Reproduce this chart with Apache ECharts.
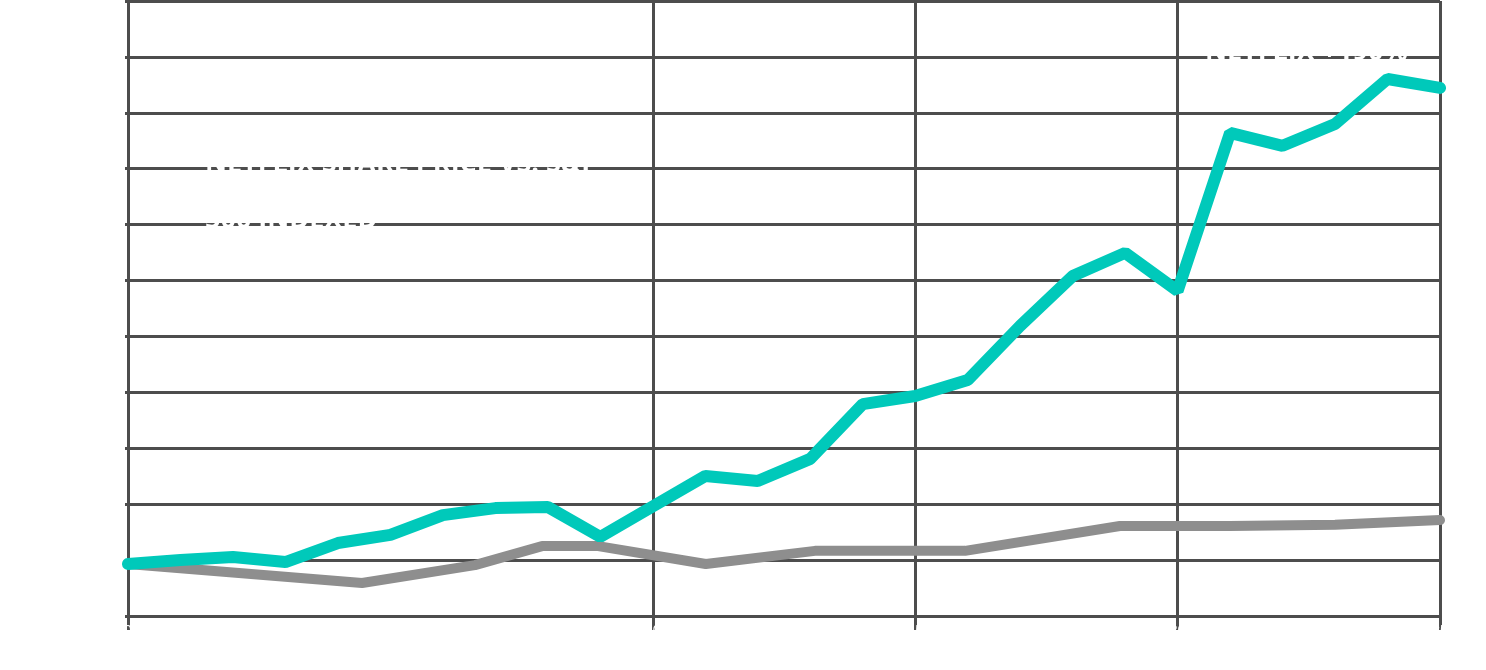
<!DOCTYPE html>
<html>
<head>
<meta charset="utf-8">
<script src="https://cdn.jsdelivr.net/npm/echarts@6/dist/echarts.min.js"></script>
<style>
  html, body { margin: 0; padding: 0; background: #ffffff; }
  #container { width: 1486px; height: 670px; }
</style>
</head>
<body>
<div id="container"></div>
<script>
// x positions in "step" units (0 = left edge, 25 = right edge)
var tealX = [0, 1, 2, 3, 4, 5, 6, 7, 8, 9, 10, 11, 12, 13, 14, 15, 16, 17, 18, 19, 20, 21, 22, 23, 24, 25];
var tealY = [18.6, 20.0, 21.1, 19.3, 26.1, 29.0, 36.1, 38.6, 39.0, 28.3, 39.2, 50.1, 48.3, 56.2, 75.8, 78.7,
             84.4, 103.8, 121.6, 129.9, 116.3, 172.8, 168.2, 176.0, 192.1, 188.9];
var grayX = [0, 4.46, 6.61, 7.89, 8.96, 11.01, 13.09, 15.95, 18.9, 21.0, 23.0, 25];
var grayY = [18.6, 11.8, 18.2, 25.0, 25.0, 18.6, 23.3, 23.3, 32.2, 32.2, 32.6, 34.3];
// ticks / vertical grid lines along the x axis
var xTicks = [0, 10, 15, 20, 25];
var seriesNames = ['S&P 500', 'Netflix'];

function pairs(xs, ys) {
    var out = [];
    for (var i = 0; i < xs.length; i++) {
        out.push([xs[i], ys[i]]);
    }
    return out;
}

var dom = document.getElementById('container');
var myChart = echarts.init(dom);
var gridColor = '#4d4d4d';

var option = {
    animation: false,
    backgroundColor: '#ffffff',
    grid: { left: 128, right: 46, top: 1, bottom: 54, outerBoundsMode: 'none', containLabel: false },
    xAxis: {
        type: 'value',
        min: 0,
        max: 25,
        axisLine: { show: false },
        axisTick: {
            show: true,
            length: 14,
            customValues: xTicks,
            lineStyle: { color: gridColor, width: 3 }
        },
        axisLabel: { color: '#ffffff', customValues: xTicks, fontSize: 14 },
        splitLine: { show: true, lineStyle: { color: gridColor, width: 3 } }
    },
    yAxis: {
        type: 'value',
        min: 0,
        max: 220,
        interval: 20,
        axisLine: { show: true, lineStyle: { color: gridColor, width: 3 } },
        axisTick: { show: true, length: 3, lineStyle: { color: gridColor, width: 3 } },
        axisLabel: { color: '#ffffff', fontSize: 14 },
        splitLine: { show: true, lineStyle: { color: gridColor, width: 3 } }
    },
    series: [
        {
            name: seriesNames[0],
            type: 'line',
            data: pairs(grayX, grayY),
            showSymbol: false,
            lineStyle: { color: '#8e8e8e', width: 10, cap: 'round' }
        },
        {
            name: seriesNames[1],
            type: 'line',
            data: pairs(tealX, tealY),
            showSymbol: false,
            lineStyle: { color: '#00c9ba', width: 12, cap: 'round' }
        }
    ],
    // white labels (invisible on white, they only cut the grid lines)
    graphic: [
        {
            type: 'text', left: 205, top: 151, z: 100,
            style: { text: 'NETFLIX SHARE PRICE VS. S&P', fill: '#ffffff',
                     font: 'bold 27px "Open Sans"' }
        },
        {
            type: 'text', left: 205, top: 207, z: 100,
            style: { text: '500 INDEXED', fill: '#ffffff',
                     font: 'bold 27px "Open Sans"' }
        },
        {
            type: 'text', left: 1205, top: 39, z: 100,
            style: { text: 'NETFLIX +190%', fill: '#ffffff',
                     font: 'bold 27px "Open Sans"' }
        }
    ]
};

myChart.setOption(option, true);
</script>
</body>
</html>
